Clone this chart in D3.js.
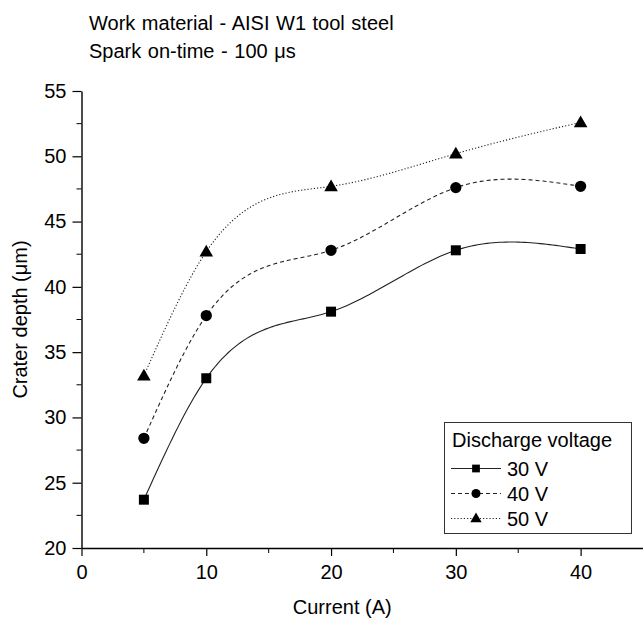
<!DOCTYPE html>
<html>
<head>
<meta charset="utf-8">
<script src="https://cdn.jsdelivr.net/npm/d3@7"></script>
<style>
  html, body { margin: 0; padding: 0; background: #fff; }
  svg { display: block; font-family: "Liberation Sans", Arial, sans-serif; }
</style>
</head>
<body>
<svg id="chart" width="643" height="625"></svg>
<script>
// Crater depth vs. discharge current at three discharge voltages
const currents = [5, 10, 20, 30, 40];
const depth30V = [23.7, 33.0, 38.1, 42.8, 42.9];
const depth40V = [28.4, 37.8, 42.8, 47.6, 47.7];
const depth50V = [33.2, 42.7, 47.7, 50.2, 52.6];
const seriesNames = ["30 V", "40 V", "50 V"];
const xTicks = [0, 10, 20, 30, 40];
const xMinorTicks = [5, 15, 25, 35];
const yTicks = [20, 25, 30, 35, 40, 45, 50, 55];
const yMinorTicks = [22.5, 27.5, 32.5, 37.5, 42.5, 47.5, 52.5];
const titleLines = ["Work material - AISI W1 tool steel", "Spark on-time - 100 \u03bcs"];

const svg = d3.select("#chart");
const x = d3.scaleLinear().domain([0, 45]).range([81.5, 643]);
const y = d3.scaleLinear().domain([20, 55]).range([548, 91]);

// Title
svg.append("g").selectAll("text").data(titleLines).join("text")
  .attr("x", 89).attr("y", (d, i) => 30 + i * 28)
  .attr("font-size", 20).attr("fill", "#000").attr("word-spacing", 1).text(d => d);

// Axes
const fontSize = 20;
const xAxis = svg.append("g").attr("transform", `translate(0,${y(20)})`)
  .call(d3.axisBottom(x).tickValues(xTicks).tickSize(8).tickPadding(9).tickSizeOuter(0).tickFormat(d3.format("d")));
xAxis.append("g").selectAll("line").data(xMinorTicks).join("line")
  .attr("x1", d => x(d)).attr("x2", d => x(d)).attr("y1", 0).attr("y2", 5).attr("stroke", "#000");
const yAxis = svg.append("g").attr("transform", `translate(${x(0)},0)`)
  .call(d3.axisLeft(y).tickValues(yTicks).tickSize(9).tickPadding(6).tickSizeOuter(0).tickFormat(d3.format("d")));
yAxis.append("g").selectAll("line").data(yMinorTicks).join("line")
  .attr("y1", d => y(d)).attr("y2", d => y(d)).attr("x1", 0).attr("x2", -5).attr("stroke", "#000");
[xAxis, yAxis].forEach(a => {
  a.selectAll("path.domain").attr("stroke", "#000").attr("stroke-width", 1.4);
  a.selectAll(".tick line").attr("stroke", "#000").attr("stroke-width", 1.2);
  a.selectAll("text").attr("font-size", fontSize).attr("fill", "#000")
    .attr("font-family", "'Liberation Sans', Arial, sans-serif");
});

svg.append("text").attr("x", (x(0) + 643) / 2 - 20).attr("y", 614)
  .attr("text-anchor", "middle").attr("font-size", fontSize).text("Current (A)");
svg.append("text").attr("transform", `translate(27,${(y(20) + y(55)) / 2}) rotate(-90)`)
  .attr("text-anchor", "middle").attr("font-size", fontSize).text("Crater depth (\u03bcm)");

// Natural cubic spline through the measured points (in data space)
function naturalSpline(xs, ys) {
  const n = xs.length, h = [], al = [], l = [1], mu = [0], z = [0];
  for (let i = 0; i < n - 1; i++) h.push(xs[i + 1] - xs[i]);
  for (let i = 1; i < n - 1; i++)
    al[i] = 3 / h[i] * (ys[i + 1] - ys[i]) - 3 / h[i - 1] * (ys[i] - ys[i - 1]);
  for (let i = 1; i < n - 1; i++) {
    l[i] = 2 * (xs[i + 1] - xs[i - 1]) - h[i - 1] * mu[i - 1];
    mu[i] = h[i] / l[i];
    z[i] = (al[i] - h[i - 1] * z[i - 1]) / l[i];
  }
  const c = new Array(n).fill(0), b = [], dd = [];
  for (let j = n - 2; j >= 0; j--) {
    c[j] = (j === 0 ? 0 : z[j] - mu[j] * c[j + 1]);
    b[j] = (ys[j + 1] - ys[j]) / h[j] - h[j] * (c[j + 1] + 2 * c[j]) / 3;
    dd[j] = (c[j + 1] - c[j]) / (3 * h[j]);
  }
  return t => {
    let j = 0;
    while (j < n - 2 && t > xs[j + 1]) j++;
    const dx = t - xs[j];
    return ys[j] + b[j] * dx + c[j] * dx * dx + dd[j] * dx * dx * dx;
  };
}

const series = [
  { name: seriesNames[0], values: depth30V, dash: null, width: 1.1, marker: d3.symbolSquare, size: 100, lsize: 60 },
  { name: seriesNames[1], values: depth40V, dash: "4,3", width: 1.1, marker: d3.symbolCircle, size: 100, lsize: 64 },
  { name: seriesNames[2], values: depth50V, dash: "1.2,2", width: 1.1, marker: d3.symbolTriangle, size: 80, lsize: 56 }
];

const line = d3.line().x(d => x(d[0])).y(d => y(d[1]));
series.forEach(s => {
  const f = naturalSpline(currents, s.values);
  const pts = d3.range(currents[0], currents[currents.length - 1] + 0.001, 0.25).map(t => [t, f(t)]);
  svg.append("path").datum(pts).attr("d", line)
    .attr("fill", "none").attr("stroke", "#222").attr("stroke-width", s.width)
    .attr("stroke-dasharray", s.dash);
  svg.append("g").selectAll("path").data(currents.map((c, i) => [c, s.values[i]])).join("path")
    .attr("transform", d => `translate(${x(d[0])},${y(d[1]) + (s.marker === d3.symbolTriangle ? 1 : 0)})`)
    .attr("d", d3.symbol().type(s.marker).size(s.size)).attr("fill", "#000");
});

// Legend
const lg = svg.append("g");
lg.append("rect").attr("x", 444.5).attr("y", 422.5).attr("width", 187).attr("height", 111)
  .attr("fill", "#fff").attr("stroke", "#333").attr("stroke-width", 1);
lg.append("text").attr("x", 452).attr("y", 447).attr("font-size", fontSize).text("Discharge voltage");
series.forEach((s, i) => {
  const cy = 468.5 + i * 25;
  lg.append("line").attr("x1", 451).attr("x2", 501).attr("y1", cy).attr("y2", cy)
    .attr("stroke", "#222").attr("stroke-width", s.width).attr("stroke-dasharray", s.dash);
  lg.append("path").attr("transform", `translate(476,${cy + (s.marker === d3.symbolTriangle ? 0.5 : 0)})`)
    .attr("d", d3.symbol().type(s.marker).size(s.lsize)).attr("fill", "#000");
  lg.append("text").attr("x", 507).attr("y", cy + 7.5).attr("font-size", fontSize).text(s.name);
});
</script>
</body>
</html>
